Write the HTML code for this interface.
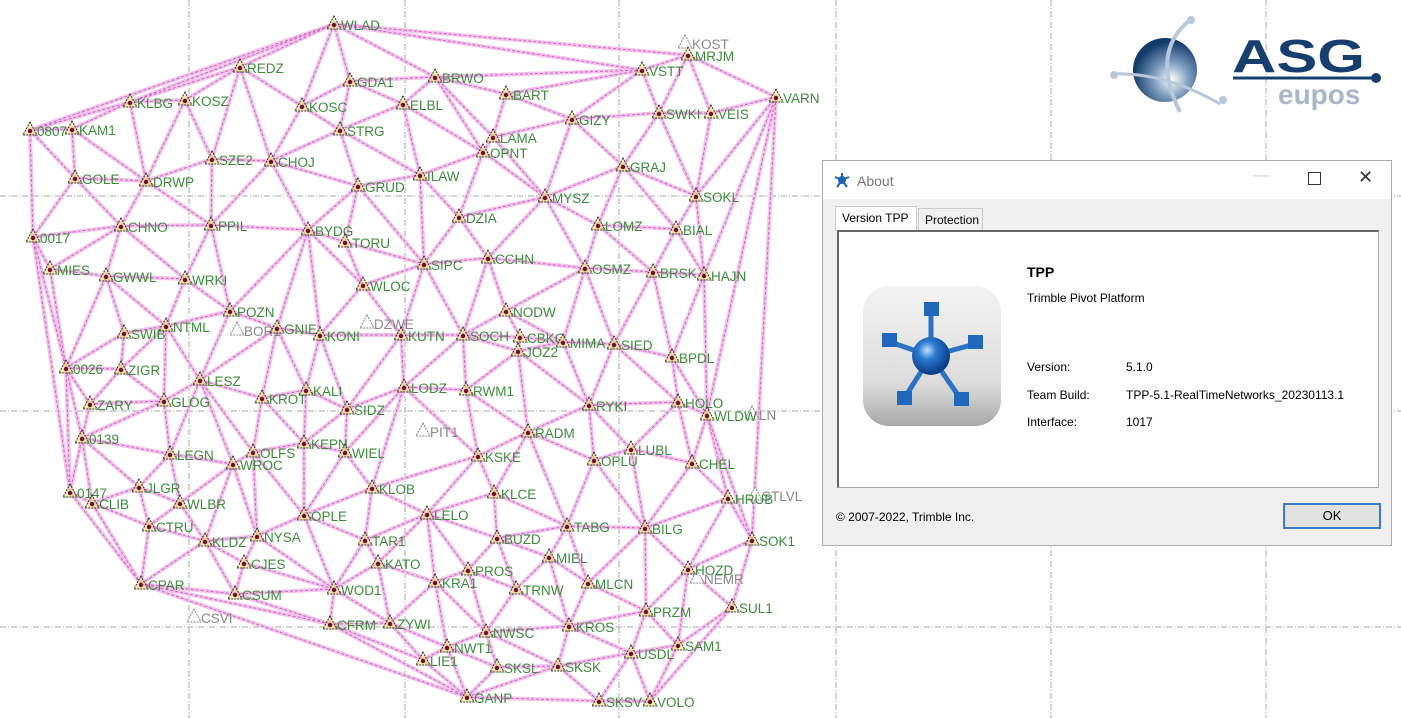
<!DOCTYPE html>
<html><head><meta charset="utf-8"><style>
html,body{margin:0;padding:0;background:#fff;width:1401px;height:718px;overflow:hidden;font-family:"Liberation Sans",sans-serif}
#map{position:absolute;left:0;top:0}
.dlg{position:absolute;left:822px;top:160px;width:570px;height:386px;background:#f0f0f0;border:1px solid #aaa;box-sizing:border-box;font-size:12px;color:#000}
.tb{position:absolute;left:0;top:0;width:568px;height:38px;background:#fff}
.tb .t{position:absolute;left:34px;top:12px;font-size:14px;color:#777}
.tab{position:absolute;top:47px;height:22px;line-height:22px;font-size:12px;padding:0 6px;box-sizing:border-box;border:1px solid #ccc;border-bottom:none}
.panel{position:absolute;left:14px;top:69px;width:542px;height:258px;background:#fff;border:1px solid #adadad;border-left:2px solid #666;border-top:2px solid #666;box-sizing:border-box}
.ok{position:absolute;left:460px;top:342px;width:98px;height:26px;border:2px solid #3a7bc8;background:#e1e1e1;box-sizing:border-box;text-align:center;line-height:22px;font-size:13px}
.l{position:absolute;font-size:12px}
</style></head><body>
<svg id="map" width="1401" height="718" xmlns="http://www.w3.org/2000/svg">
<g stroke="#aaa" stroke-width="1" stroke-dasharray="6,2,1,2" fill="none">
<line x1="189" y1="0" x2="189" y2="718"/><line x1="405" y1="0" x2="405" y2="718"/><line x1="619" y1="0" x2="619" y2="718"/><line x1="836" y1="0" x2="836" y2="718"/><line x1="1051" y1="0" x2="1051" y2="718"/><line x1="1266" y1="0" x2="1266" y2="718"/>
<line x1="0" y1="196" x2="1401" y2="196"/><line x1="0" y1="411" x2="1401" y2="411"/><line x1="0" y1="627" x2="1401" y2="627"/>
</g>
<g id="edges"></g><g id="nodes"></g>
<g transform="translate(1105,12)">
<defs><radialGradient id="gl" cx="0.6" cy="0.65" r="0.6"><stop offset="0" stop-color="#fff"/><stop offset="0.45" stop-color="#7f9fc0"/><stop offset="1" stop-color="#123a6a"/></radialGradient></defs>
<circle cx="60" cy="58" r="32" fill="url(#gl)"/>
<path d="M85 8 Q45 40 75 100" stroke="#b8c8d8" stroke-width="4" fill="none"/>
<path d="M8 62 Q60 60 115 92" stroke="#b8c8d8" stroke-width="3" fill="none"/>
<circle cx="86" cy="8" r="4" fill="#b8c8d8"/><circle cx="9" cy="63" r="4" fill="#b8c8d8"/><circle cx="118" cy="88" r="4" fill="#b8c8d8"/>
<text x="127" y="60" font-family="Liberation Sans" font-weight="bold" font-size="46" fill="#163f70" textLength="133" lengthAdjust="spacingAndGlyphs">ASG</text>
<line x1="128" y1="66" x2="270" y2="66" stroke="#163f70" stroke-width="3"/><circle cx="271" cy="66" r="5" fill="#163f70"/>
<text x="173" y="92" font-family="Liberation Sans" font-weight="bold" font-size="28" fill="#a8b8c8">eupos</text>
</g>
</svg>
<div class="dlg">
<div class="tb"><svg style="position:absolute;left:10px;top:10px" width="18" height="18"><g stroke="#1d63b0" stroke-width="2"><line x1="9" y1="9" x2="9" y2="2"/><line x1="9" y1="9" x2="2" y2="6"/><line x1="9" y1="9" x2="16" y2="6"/><line x1="9" y1="9" x2="4" y2="16"/><line x1="9" y1="9" x2="14" y2="16"/></g><circle cx="9" cy="9" r="4" fill="#1d63b0"/></svg><span class="t">About</span>
<span style="position:absolute;left:430px;top:6px;color:#ccc;font-size:16px">—</span>
<span style="position:absolute;left:485px;top:11px;width:11px;height:11px;border:1px solid #333"></span>
<span style="position:absolute;left:535px;top:6px;font-size:18px;color:#333">✕</span></div>
<div class="tab" style="left:12px;top:45px;height:25px;background:#fff;width:82px">Version TPP</div>
<div class="tab" style="left:95px;width:65px;background:#f0f0f0">Protection</div>
<div class="panel"></div>
<svg style="position:absolute;left:39px;top:124px" width="140" height="142">
<defs><linearGradient id="ib" x1="0" y1="0" x2="0" y2="1"><stop offset="0" stop-color="#f4f4f4"/><stop offset="0.7" stop-color="#dcdcdc"/><stop offset="1" stop-color="#a8a8a8"/></linearGradient><radialGradient id="sp" cx="0.4" cy="0.35" r="0.6"><stop offset="0" stop-color="#bfe0ff"/><stop offset="0.4" stop-color="#2a7ad0"/><stop offset="1" stop-color="#0b3f8a"/></radialGradient></defs>
<rect x="1" y="1" width="138" height="140" rx="26" fill="url(#ib)"/>
<g stroke="#2a72c4" stroke-width="5"><line x1="69" y1="71" x2="69" y2="25"/><line x1="69" y1="71" x2="28" y2="57"/><line x1="69" y1="71" x2="113" y2="59"/><line x1="69" y1="71" x2="43" y2="112"/><line x1="69" y1="71" x2="98" y2="113"/></g>
<g fill="#1f68bd"><rect x="62" y="17" width="15" height="14"/><rect x="20" y="48" width="15" height="14"/><rect x="106" y="50" width="15" height="14"/><rect x="35" y="106" width="15" height="14"/><rect x="92" y="107" width="15" height="14"/></g>
<circle cx="69" cy="71" r="19" fill="url(#sp)"/></svg>
<div class="l" style="left:204px;top:103px;font-size:14px;font-weight:bold">TPP</div>
<div class="l" style="left:204px;top:130px">Trimble Pivot Platform</div>
<div class="l" style="left:204px;top:199px">Version:</div><div class="l" style="left:303px;top:199px">5.1.0</div>
<div class="l" style="left:204px;top:227px">Team Build:</div><div class="l" style="left:303px;top:227px">TPP-5.1-RealTimeNetworks_20230113.1</div>
<div class="l" style="left:204px;top:254px">Interface:</div><div class="l" style="left:303px;top:254px">1017</div>
<div class="l" style="left:13px;top:349px">© 2007-2022, Trimble Inc.</div>
<div class="ok">OK</div>
</div>
<script>
var N=[["WLAD",334,24],["MRJM",688,55],["VSTT",642,70],["VARN",776,97],["REDZ",240,67],["GDA1",350,81],["BRWO",435,77],["BART",506,94],["KLBG",130,102],["KOSZ",185,100],["KOSC",302,106],["ELBL",403,104],["GIZY",572,119],["SWKI",659,113],["VEIS",711,113],["0807",30,130],["KAM1",72,129],["STRG",340,130],["LAMA",493,137],["OPNT",483,152],["SZE2",212,159],["CHOJ",271,161],["GRAJ",623,166],["GOLE",75,178],["DRWP",146,181],["GRUD",358,186],["ILAW",420,175],["MYSZ",545,197],["SOKL",696,196],["DZIA",459,217],["LOMZ",598,225],["BIAL",676,229],["CHNO",121,226],["PPIL",211,225],["BYDG",308,230],["TORU",345,242],["0017",33,237],["CCHN",488,258],["SIPC",424,264],["OSMZ",585,268],["BRSK",653,272],["HAJN",704,275],["MIES",50,269],["GWWL",106,276],["WRKI",185,279],["WLOC",363,285],["POZN",230,311],["GNIE",277,328],["NODW",506,311],["SWIB",124,333],["NTML",166,326],["KONI",320,335],["KUTN",401,335],["SOCH",463,335],["CBKO",520,337],["MIMA",563,342],["JOZ2",518,351],["SIED",614,344],["BPDL",672,357],["0026",66,368],["ZIGR",121,369],["LESZ",200,380],["KROT",262,398],["KALI",306,390],["LODZ",404,387],["RWM1",466,390],["ZARY",90,404],["GLOG",164,401],["SIDZ",347,409],["RYKI",589,405],["HOLO",678,402],["WLDW",707,415],["RADM",528,432],["0139",82,438],["LEGN",170,454],["OLFS",253,452],["KEPN",304,443],["WIEL",345,452],["KSKE",478,456],["OPLU",594,460],["LUBL",631,449],["CHEL",692,463],["WROC",233,464],["JLGR",139,487],["KLOB",372,488],["KLCE",494,493],["0147",70,492],["CLIB",92,503],["WLBR",180,503],["HRUB",728,498],["OPLE",304,515],["LELO",427,514],["TABG",567,526],["BILG",645,528],["SOK1",752,540],["CTRU",149,526],["KLDZ",205,541],["NYSA",257,536],["TAR1",365,540],["BUZD",497,538],["MIEL",549,557],["HOZD",688,569],["CJES",244,563],["KATO",378,563],["PROS",468,570],["KRA1",435,582],["TRNW",516,589],["MLCN",588,583],["CPAR",141,584],["CSUM",235,594],["WOD1",334,589],["SUL1",732,607],["PRZM",646,611],["CFRM",330,624],["ZYWI",390,623],["KROS",569,626],["NWSC",486,632],["SAM1",678,645],["NWT1",447,647],["USDL",631,653],["LIE1",423,660],["SKSL",497,667],["SKSK",558,666],["GANP",467,697],["SKSV",599,701],["VOLO",650,701]];
var G=[["KOST",685,43],["DZWE",367,323],["BOR1",237,330],["PIT1",423,431],["CSVI",194,617],["NEMR",697,578],["LN",752,414],["STLVL",755,495]];
function circ(a,b,c){var ax=a[1],ay=a[2],bx=b[1],by=b[2],cx=c[1],cy=c[2];var d=2*(ax*(by-cy)+bx*(cy-ay)+cx*(ay-by));var ux=((ax*ax+ay*ay)*(by-cy)+(bx*bx+by*by)*(cy-ay)+(cx*cx+cy*cy)*(ay-by))/d;var uy=((ax*ax+ay*ay)*(cx-bx)+(bx*bx+by*by)*(ax-cx)+(cx*cx+cy*cy)*(bx-ax))/d;return [ux,uy,(ax-ux)*(ax-ux)+(ay-uy)*(ay-uy)];}
var P=N.slice();var S=[["s1",-5000,-5000],["s2",5000,-5000],["s3",0,8000]];var all=P.concat(S);var n=P.length;
var T=[[n,n+1,n+2]];T[0].c=circ(all[n],all[n+1],all[n+2]);
for(var i=0;i<n;i++){var p=all[i],bad=[],keep=[];T.forEach(function(t){var dx=p[1]-t.c[0],dy=p[2]-t.c[1];(dx*dx+dy*dy<t.c[2]?bad:keep).push(t);});
var ec={};bad.forEach(function(t){[[t[0],t[1]],[t[1],t[2]],[t[2],t[0]]].forEach(function(e){var k=Math.min(e[0],e[1])+"_"+Math.max(e[0],e[1]);ec[k]=(ec[k]||0)+1;});});
bad.forEach(function(t){[[t[0],t[1]],[t[1],t[2]],[t[2],t[0]]].forEach(function(e){var k=Math.min(e[0],e[1])+"_"+Math.max(e[0],e[1]);if(ec[k]==1){var nt=[e[0],e[1],i];nt.c=circ(all[e[0]],all[e[1]],all[i]);keep.push(nt);}});});T=keep;}
var E={};T.forEach(function(t){[[t[0],t[1]],[t[1],t[2]],[t[2],t[0]]].forEach(function(e){if(e[0]<n&&e[1]<n){E[Math.min(e[0],e[1])+"_"+Math.max(e[0],e[1])]=e;}});});
var s1="";for(var k in E){var a=all[E[k][0]],b=all[E[k][1]];s1+='<line x1="'+a[1]+'" y1="'+a[2]+'" x2="'+b[1]+'" y2="'+b[2]+'"/>';}
document.getElementById("edges").innerHTML='<g stroke="#f5c2ef" stroke-width="4">'+s1+'</g><g stroke="#c46cb6" stroke-width="1" stroke-dasharray="3,2">'+s1+'</g>';
var h="";function nd(a,gray){var x=a[1],y=a[2];h+='<polygon points="'+x+','+(y-8)+' '+(x-7)+','+(y+5)+' '+(x+7)+','+(y+5)+'" fill="'+(gray?'#fff':'#f6e27a')+'" fill-opacity="'+(gray?1:0.6)+'" stroke="'+(gray?'#888':'#333')+'" stroke-width="1" stroke-dasharray="2,1"/>';if(!gray)h+='<circle cx="'+x+'" cy="'+(y+1)+'" r="2.2" fill="#6a1030"/>';h+='<text x="'+(x+7)+'" y="'+(y+6)+'" font-family="Liberation Sans" font-size="13.5" fill="'+(gray?'#888':'#3c8c3c')+'">'+a[0]+'</text>';}
G.forEach(function(a){nd(a,1)});N.forEach(function(a){nd(a,0)});document.getElementById("nodes").innerHTML=h;
</script>
</body></html>
